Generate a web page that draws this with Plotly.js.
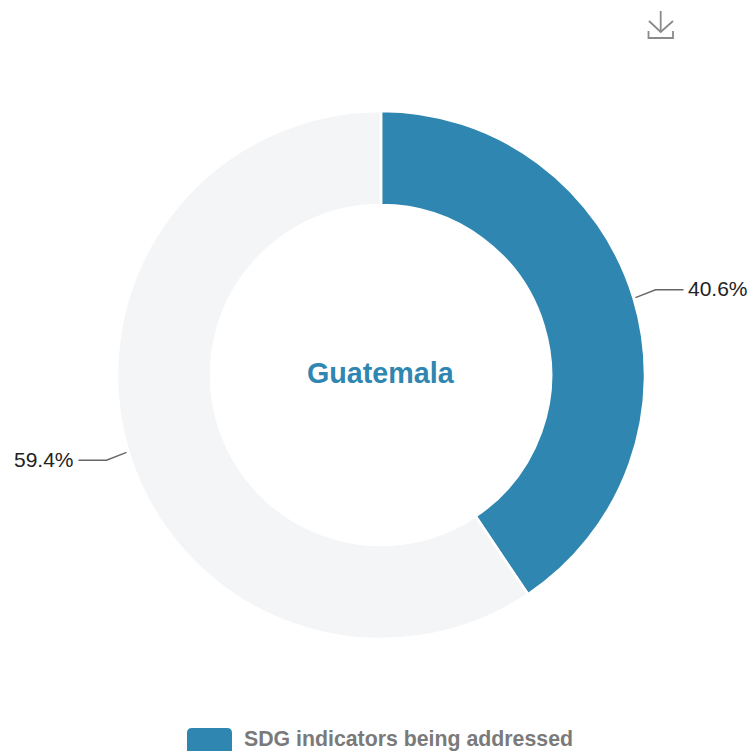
<!DOCTYPE html>
<html>
<head>
<meta charset="utf-8">
<script src="https://cdn.plot.ly/plotly-3.0.1.min.js"></script>
<style>html,body{margin:0;padding:0;background:#fff;overflow:hidden}#chart{width:752px;height:751px}</style>
</head>
<body>
<div id="chart"></div>
<script>
const categories = ["SDG indicators being addressed", "SDG indicators not being addressed"];
const seriesValues = [40.6, 59.4];
const sliceColors = ["#2E86B1", "#F4F5F7"];
const centerTitle = "Guatemala";
const legendLabel = "SDG indicators being addressed";

const W = 752, H = 751, cx = 381, cy = 375, R = 264, r = 170;
const fx = x => x / W, fy = y => 1 - y / H;
const total = seriesValues.reduce((a, b) => a + b, 0);
let cum = 0;
const annotations = [], shapes = [];
seriesValues.forEach(v => {
  const a = (cum + v / 2) / total * 2 * Math.PI;
  cum += v;
  const s = Math.sin(a), c = Math.cos(a), dir = s >= 0 ? 1 : -1;
  const x0 = cx + (R + 2) * s, y0 = cy - (R + 2) * c;
  const x1 = x0 + dir * 20, y1 = y0 - c * 27;
  const x2 = x1 + dir * 28;
  shapes.push({type: "path", xref: "paper", yref: "paper",
    path: `M${fx(x0)},${fy(y0)} L${fx(x1)},${fy(y1)} L${fx(x2)},${fy(y1)}`,
    line: {color: "#666", width: 1.4}});
  annotations.push({xref: "paper", yref: "paper", x: fx(x2 + dir * 3), y: fy(y1 - 1),
    xanchor: dir > 0 ? "left" : "right", yanchor: "middle", showarrow: false,
    text: v.toFixed(1) + "%", font: {family: "Liberation Sans, Arial, sans-serif", size: 21, color: "#222"}});
});
annotations.push({xref: "paper", yref: "paper", x: fx(380.5), y: fy(373), xanchor: "center", yanchor: "middle",
  showarrow: false, text: "<b>" + centerTitle + "</b>",
  font: {family: "Liberation Sans, Arial, sans-serif", size: 28.7, color: sliceColors[0]}});
annotations.push({xref: "paper", yref: "paper", x: fx(242), y: fy(739), xanchor: "left", yanchor: "middle",
  showarrow: false, text: "<b>" + legendLabel + "</b>",
  font: {family: "Liberation Sans, Arial, sans-serif", size: 21.3, color: "#7a7a7a"}});

// legend swatch, cut off by the bottom of the frame as in the reference
const sw = (x, y) => `${fx(x)},${fy(y)}`;
shapes.push({type: "path", xref: "paper", yref: "paper", fillcolor: sliceColors[0], line: {width: 0},
  path: `M${sw(187, 751)} L${sw(187, 733)} Q${sw(187, 728)} ${sw(192, 728)} L${sw(227, 728)} Q${sw(232, 728)} ${sw(232, 733)} L${sw(232, 751)} Z`});

// download icon
const ic = {type: "path", xref: "paper", yref: "paper", line: {color: "#8a8a8a", width: 1.8}};
shapes.push(Object.assign({}, ic, {path: `M${sw(660.7, 11)} L${sw(660.7, 32)}`}));
shapes.push(Object.assign({}, ic, {path: `M${sw(649, 21)} L${sw(660.7, 32)} L${sw(673, 21)}`}));
shapes.push(Object.assign({}, ic, {path: `M${sw(648.5, 31)} L${sw(648.5, 38)} L${sw(673, 38)} L${sw(673, 31)}`}));

Plotly.newPlot("chart", [{
  type: "pie",
  labels: categories,
  values: seriesValues,
  hole: r / R,
  sort: false,
  direction: "clockwise",
  rotation: 0,
  textinfo: "none",
  marker: {colors: sliceColors, line: {color: "#fff", width: 2.5}},
  domain: {x: [fx(cx - R), fx(cx + R)], y: [fy(cy + R), fy(cy - R)]}
}], {
  width: W, height: H,
  margin: {l: 0, r: 0, t: 0, b: 0},
  showlegend: false,
  paper_bgcolor: "#fff",
  annotations, shapes
}, {displayModeBar: false});
</script>
</body>
</html>
